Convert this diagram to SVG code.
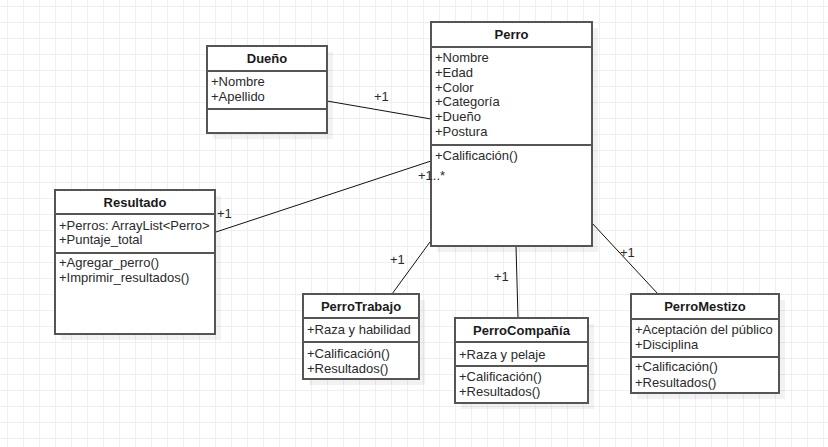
<svg xmlns="http://www.w3.org/2000/svg" width="828" height="447" viewBox="0 0 828 447">
  <defs>
    <pattern id="grid" x="7" y="6" width="16" height="16" patternUnits="userSpaceOnUse">
      <path d="M0.5 0 V16 M0 0.5 H16" fill="none" stroke="#efefef" stroke-width="1"/>
    </pattern>
  </defs>
  <style>
    .box { fill: #ffffff; stroke: #555555; stroke-width: 2; }
    .shadow { fill: #000000; fill-opacity: 0.05; }
    .div { stroke: #555555; stroke-width: 2; }
    .title { font-family: "Liberation Sans", Arial, sans-serif; font-size: 13px; font-weight: bold; fill: #1a1a1a; text-anchor: middle; }
    .txt { font-family: "Liberation Sans", Arial, sans-serif; font-size: 13px; fill: #2a2a2a; }
    .edge { stroke: #111111; stroke-width: 1; fill: none; }
    .lbl { font-family: "Liberation Sans", Arial, sans-serif; font-size: 13px; fill: #2a2a2a; }
  </style>

  <rect width="828" height="447" fill="#ffffff"/>
  <rect width="828" height="447" fill="url(#grid)"/>

  <!-- association lines -->
  <g id="connectors">
    <line class="edge" x1="327" y1="101" x2="431" y2="119"/>
    <line class="edge" x1="216" y1="232" x2="431" y2="161"/>
    <line class="edge" x1="430" y1="242" x2="392" y2="294"/>
    <line class="edge" x1="516" y1="246" x2="518" y2="318"/>
    <line class="edge" x1="592" y1="223" x2="658" y2="294"/>
  </g>

  <g id="duenio">
    <rect class="shadow" x="213" y="52" width="120" height="87"/>
    <rect class="box" x="207" y="46" width="120" height="87"/>
    <line class="div" x1="207" y1="71" x2="327" y2="71"/>
    <line class="div" x1="207" y1="109" x2="327" y2="109"/>
    <text class="title" x="267" y="63">Dueño</text>
    <text class="txt" x="211" y="86">+Nombre</text>
    <text class="txt" x="211" y="101">+Apellido</text>
  </g>

  <g id="perro">
    <rect class="shadow" x="437" y="28" width="161" height="224"/>
    <rect class="box" x="431" y="22" width="161" height="224"/>
    <line class="div" x1="431" y1="47" x2="592" y2="47"/>
    <line class="div" x1="431" y1="145" x2="592" y2="145"/>
    <text class="title" x="511.5" y="39">Perro</text>
    <text class="txt" x="435" y="62">+Nombre</text>
    <text class="txt" x="435" y="76.8">+Edad</text>
    <text class="txt" x="435" y="91.6">+Color</text>
    <text class="txt" x="435" y="106.4">+Categoría</text>
    <text class="txt" x="435" y="121.2">+Dueño</text>
    <text class="txt" x="435" y="136">+Postura</text>
    <text class="txt" x="435" y="159.5">+Calificación()</text>
  </g>

  <g id="resultado">
    <rect class="shadow" x="61" y="196" width="160" height="144"/>
    <rect class="box" x="55" y="190" width="160" height="144"/>
    <line class="div" x1="55" y1="214" x2="215" y2="214"/>
    <line class="div" x1="55" y1="253" x2="215" y2="253"/>
    <text class="title" x="135" y="207">Resultado</text>
    <text class="txt" x="59" y="229.5">+Perros: ArrayList&lt;Perro&gt;</text>
    <text class="txt" x="59" y="244.3">+Puntaje_total</text>
    <text class="txt" x="59" y="267">+Agregar_perro()</text>
    <text class="txt" x="59" y="282">+Imprimir_resultados()</text>
  </g>

  <g id="perro-trabajo">
    <rect class="shadow" x="309" y="300" width="116" height="85"/>
    <rect class="box" x="303" y="294" width="116" height="85"/>
    <line class="div" x1="303" y1="318" x2="419" y2="318"/>
    <line class="div" x1="303" y1="342" x2="419" y2="342"/>
    <text class="title" x="361" y="311">PerroTrabajo</text>
    <text class="txt" x="307" y="334">+Raza y habilidad</text>
    <text class="txt" x="307" y="358">+Calificación()</text>
    <text class="txt" x="307" y="372.5">+Resultados()</text>
  </g>

  <g id="perro-compania">
    <rect class="shadow" x="461" y="324" width="133" height="85"/>
    <rect class="box" x="455" y="318" width="133" height="85"/>
    <line class="div" x1="455" y1="342" x2="588" y2="342"/>
    <line class="div" x1="455" y1="366" x2="588" y2="366"/>
    <text class="title" x="521.5" y="335">PerroCompañía</text>
    <text class="txt" x="459" y="358.5">+Raza y pelaje</text>
    <text class="txt" x="459" y="381">+Calificación()</text>
    <text class="txt" x="459" y="396">+Resultados()</text>
  </g>

  <g id="perro-mestizo">
    <rect class="shadow" x="637" y="300" width="148" height="99"/>
    <rect class="box" x="631" y="294" width="148" height="99"/>
    <line class="div" x1="631" y1="319" x2="779" y2="319"/>
    <line class="div" x1="631" y1="357" x2="779" y2="357"/>
    <text class="title" x="705" y="311">PerroMestizo</text>
    <text class="txt" x="635" y="333.5">+Aceptación del público</text>
    <text class="txt" x="635" y="349">+Disciplina</text>
    <text class="txt" x="635" y="371">+Calificación()</text>
    <text class="txt" x="635" y="387">+Resultados()</text>
  </g>

  <!-- multiplicity labels, drawn over the boxes -->
  <g id="multiplicities">
    <text class="lbl" x="374" y="101">+1</text>
    <text class="lbl" x="217" y="218">+1</text>
    <text class="lbl" x="418" y="180">+1..*</text>
    <text class="lbl" x="390" y="264">+1</text>
    <text class="lbl" x="494" y="281">+1</text>
    <text class="lbl" x="620" y="257">+1</text>
  </g>
</svg>
